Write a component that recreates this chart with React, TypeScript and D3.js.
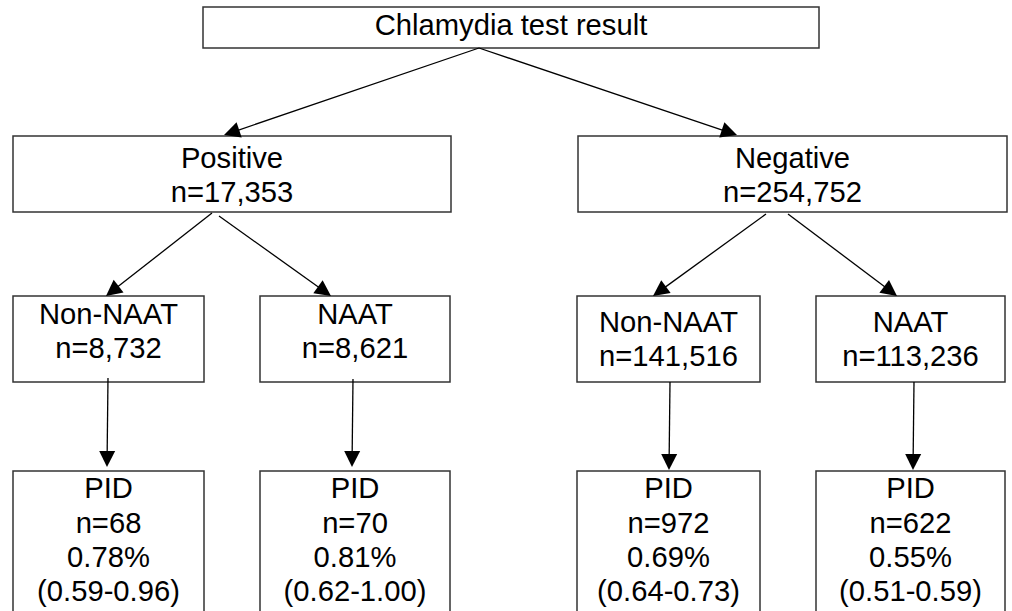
import React from "react";
import * as d3 from "d3";

// ---- data ----
const rootLines = ["Chlamydia test result"];
const resultLabels = ["Positive", "Negative"];
const resultCounts = ["n=17,353", "n=254,752"];
const testLabels = ["Non-NAAT", "NAAT", "Non-NAAT", "NAAT"];
const testCounts = ["n=8,732", "n=8,621", "n=141,516", "n=113,236"];
const pidCounts = ["n=68", "n=70", "n=972", "n=622"];
const pidPercents = ["0.78%", "0.81%", "0.69%", "0.55%"];
const pidCIs = ["(0.59-0.96)", "(0.62-1.00)", "(0.64-0.73)", "(0.51-0.59)"];

// ---- layout ----
type Box = { x0: number; x1: number; y0: number; y1: number; baselines: number[]; lines: string[] };

const FONT = "'Liberation Sans', Arial, Helvetica, sans-serif";
const FS = 29.2;

const rootBox: Box = { x0: 203, x1: 819, y0: 7, y1: 48, baselines: [35], lines: rootLines };

const level2X = [
  [13, 451],
  [578, 1007],
];
const level2Boxes: Box[] = level2X.map((xs, i) => ({
  x0: xs[0],
  x1: xs[1],
  y0: 136,
  y1: 212,
  baselines: [168, 202],
  lines: [resultLabels[i], resultCounts[i]],
}));

const level3X = [
  [13, 204],
  [260, 450],
  [577, 760],
  [816, 1005],
];
const level3Base = [
  [324, 358],
  [324, 358],
  [332, 366],
  [332, 366],
];
const level3Boxes: Box[] = level3X.map((xs, i) => ({
  x0: xs[0],
  x1: xs[1],
  y0: 296,
  y1: 382,
  baselines: level3Base[i],
  lines: [testLabels[i], testCounts[i]],
}));

const pidBoxes: Box[] = level3X.map((xs, i) => ({
  x0: xs[0],
  x1: xs[1],
  y0: 471,
  y1: 640,
  baselines: [498, 533, 567, 601],
  lines: ["PID", pidCounts[i], pidPercents[i], pidCIs[i]],
}));

const allBoxes = [rootBox, ...level2Boxes, ...level3Boxes, ...pidBoxes];

// arrows: [from, to-tip]
const arrows: [number, number][][] = [
  [[479, 48], [224, 135]],
  [[479, 48], [737, 135]],
  [[212, 213], [106, 296]],
  [[219, 216], [331, 296]],
  [[766, 214], [653, 296]],
  [[788, 214], [897, 296]],
  [[108, 378], [107, 467]],
  [[353, 379], [352, 467]],
  [[670, 382], [669, 470]],
  [[914, 382], [913, 470]],
];

const line = d3.line<[number, number]>().x((d) => d[0]).y((d) => d[1]);

function arrowHead(from: [number, number], to: [number, number]) {
  const L = 16;
  const W = 8;
  const dx = to[0] - from[0];
  const dy = to[1] - from[1];
  const len = Math.hypot(dx, dy);
  const ux = dx / len;
  const uy = dy / len;
  const bx = to[0] - ux * L;
  const by = to[1] - uy * L;
  const pts: [number, number][] = [
    to,
    [bx - uy * W, by + ux * W],
    [bx + uy * W, by - ux * W],
  ];
  return line(pts) + "Z";
}

function shaft(from: [number, number], to: [number, number]) {
  const dx = to[0] - from[0];
  const dy = to[1] - from[1];
  const len = Math.hypot(dx, dy);
  const end: [number, number] = [to[0] - (dx / len) * 10, to[1] - (dy / len) * 10];
  return line([from, end]);
}

export default function App() {
  return (
    <svg
      width={1012}
      height={611}
      style={{ position: "absolute", left: 0, top: 0, display: "block", background: "#fff" }}
    >
      <rect x={0} y={0} width={1012} height={611} fill="#fff" />
      {allBoxes.map((b, i) => (
        <g key={i}>
          <rect
            x={b.x0}
            y={b.y0}
            width={b.x1 - b.x0}
            height={b.y1 - b.y0}
            fill="#fff"
            stroke="#333"
            strokeWidth={1.5}
          />
          {b.lines.map((t, j) => (
            <text
              key={j}
              x={(b.x0 + b.x1) / 2}
              y={b.baselines[j]}
              textAnchor="middle"
              fontFamily={FONT}
              fontSize={FS}
              fill="#000"
            >
              {t}
            </text>
          ))}
        </g>
      ))}
      {arrows.map((a, i) => (
        <g key={"a" + i}>
          <path d={shaft(a[0] as [number, number], a[1] as [number, number]) || ""} stroke="#000" strokeWidth={1.3} fill="none" />
          <path d={arrowHead(a[0] as [number, number], a[1] as [number, number])} fill="#000" stroke="none" />
        </g>
      ))}
    </svg>
  );
}
